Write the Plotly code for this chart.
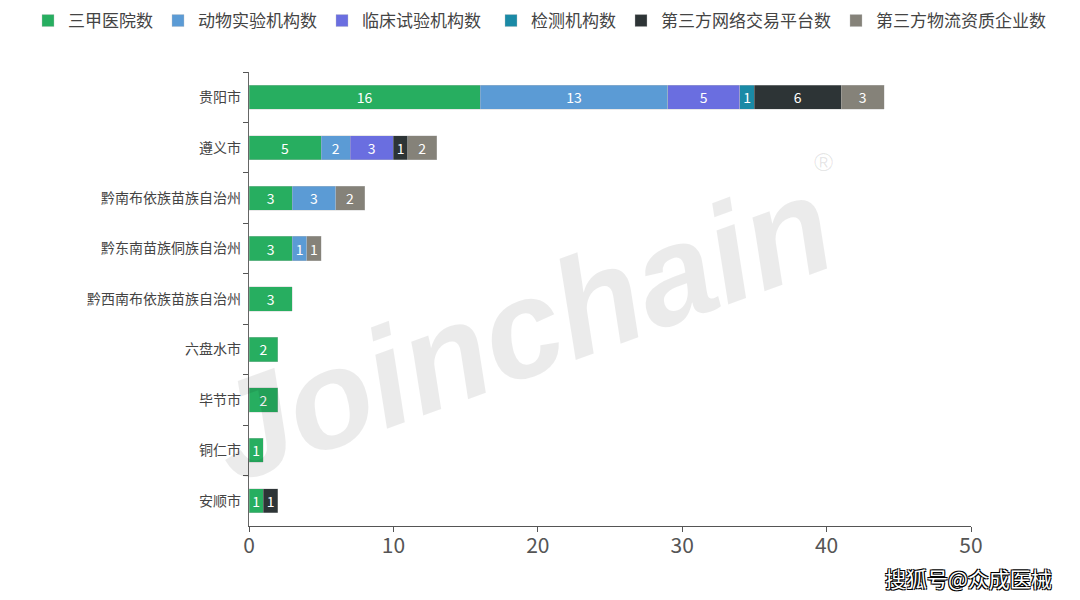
import plotly.graph_objects as go

categories = ["贵阳市", "遵义市", "黔南布依族苗族自治州", "黔东南苗族侗族自治州",
              "黔西南布依族苗族自治州", "六盘水市", "毕节市", "铜仁市", "安顺市"]

series_names = ["三甲医院数", "动物实验机构数", "临床试验机构数", "检测机构数",
                "第三方网络交易平台数", "第三方物流资质企业数"]

hospital = [16, 5, 3, 3, 3, 2, 2, 1, 1]
animal_lab = [13, 2, 3, 1, None, None, None, None, None]
clinical = [5, 3, None, None, None, None, None, None, None]
testing = [1, None, None, None, None, None, None, None, None]
online_platform = [6, 1, None, None, None, None, None, None, 1]
logistics = [3, 2, 2, 1, None, None, None, None, None]

series_values = [hospital, animal_lab, clinical, testing, online_platform, logistics]
colors = ["#27ae60", "#5b9bd5", "#6a6ee0", "#1a8aa6", "#2d3436", "#858279"]

x_ticks = [0, 10, 20, 30, 40, 50]

FONT = "Noto Sans CJK SC"
OFF = 8  # page body offset in the screenshot

fig = go.Figure()
for i, (name, vals, col) in enumerate(zip(series_names, series_values, colors)):
    fig.add_trace(go.Bar(
        y=categories, x=vals, name=name, orientation="h",
        legend="legend" if i < 3 else "legend2",
        marker=dict(color=col, line=dict(color="rgba(190,190,190,0.6)", width=0.6)),
        text=[str(v) if v is not None else "" for v in vals],
        textposition="inside", insidetextanchor="middle", textangle=0,
        textfont=dict(color="white", size=14, family=FONT),
        constraintext="none",
        hoverinfo="x+y+name",
    ))

L, R, T, B = 249 - OFF, 1080 - 971 + OFF, 72 - OFF, 600 - 526 + OFF
PW, PH = 1080 - L - R, 600 - T - B


def px(xs):
    return (xs - OFF - L) / PW


def py(ys):
    return (600 - B - (ys - OFF)) / PH


def legend_box(text_start_screen):
    return dict(orientation="h", xref="container", yref="container",
                x=(text_start_screen - 40 - OFF) / 1080, xanchor="left",
                y=1 - 13 / 600, yanchor="middle",
                font=dict(size=17, color="#444", family=FONT),
                itemwidth=30, traceorder="normal", bgcolor="rgba(0,0,0,0)")


fig.update_layout(
    barmode="stack",
    bargap=0.52,
    width=1080, height=600,
    paper_bgcolor="white", plot_bgcolor="white",
    margin=dict(l=L, r=R, t=T, b=B, autoexpand=False),
    font=dict(family=FONT, color="#444"),
    legend=legend_box(68),
    legend2=legend_box(531),
    xaxis=dict(range=[0, 50], tickvals=x_ticks, showgrid=False, zeroline=False,
               showline=True, linecolor="#555", linewidth=1.2,
               ticks="outside", ticklen=5, tickcolor="#555", ticklabelstandoff=-4,
               tickfont=dict(size=21, color="#555", family=FONT)),
    yaxis=dict(categoryorder="array", categoryarray=categories, autorange="reversed",
               showgrid=False, zeroline=False, showline=True, linecolor="#666", linewidth=1.2,
               ticks="outside", ticklen=5, tickcolor="#555", tickson="boundaries",
               ticklabelstandoff=4,
               tickfont=dict(size=14, color="#444", family=FONT)),
    showlegend=True,
)

# watermark
fig.add_annotation(text="Joinchain", xref="paper", yref="paper", x=px(520), y=py(328),
                   xanchor="center", yanchor="middle",
                   showarrow=False, textangle=-20,
                   font=dict(size=139, color="rgba(0,0,0,0.08)", family="Liberation Sans",
                             weight="bold", style="italic"))
fig.add_annotation(text="®", xref="paper", yref="paper", x=px(823), y=py(162),
                   xanchor="center", yanchor="middle",
                   showarrow=False, font=dict(size=26, color="rgba(0,0,0,0.1)", family="Liberation Sans"))

# source tag
fig.add_annotation(text="搜狐号@众成医械", xref="paper", yref="paper",
                   x=px(968), y=py(578), xanchor="center", yanchor="middle", showarrow=False,
                   font=dict(size=21, color="white", family=FONT,
                             shadow="1px 1px 0px #000, -1px -1px 0px #000, 1px -1px 0px #000, -1px 1px 0px #000"))

fig.write_html("out.html")
